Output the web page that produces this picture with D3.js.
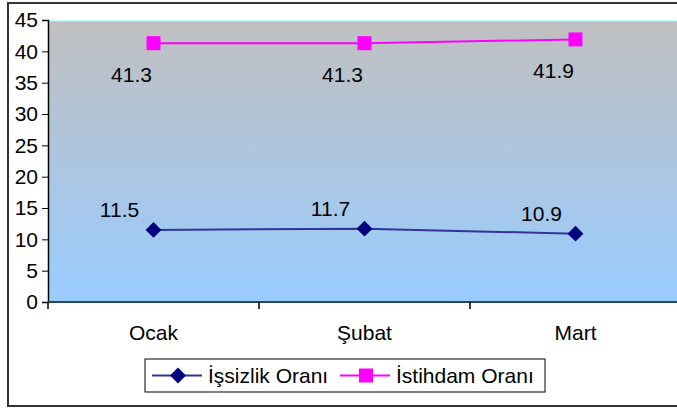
<!DOCTYPE html>
<html>
<head>
<meta charset="utf-8">
<script src="https://cdn.jsdelivr.net/npm/d3@7"></script>
<style>
  body { margin: 0; background: #fff; }
  svg { display: block; font-family: Arial, "Liberation Sans", sans-serif; }
</style>
</head>
<body>
<svg id="chart"></svg>
<script>
// Data
const months = ["Ocak", "Şubat", "Mart"];
const issizlik = [11.5, 11.7, 10.9];
const istihdam = [41.3, 41.3, 41.9];
const yTicks = [0, 5, 10, 15, 20, 25, 30, 35, 40, 45];
const seriesNames = ["İşsizlik Oranı", "İstihdam Oranı"];

const W = 677, H = 409;
const FS = "21px";
const svg = d3.select("#chart").attr("width", W).attr("height", H);

// outer frame
svg.append("rect")
  .attr("x", 8).attr("y", 3)
  .attr("width", 700).attr("height", 403)
  .attr("fill", "#fff")
  .attr("stroke", "#333").attr("stroke-width", 2);

const margin = { left: 48, top: 20 };
const plotW = 633, plotH = 282;

const x = d3.scaleBand().domain(months).range([margin.left, margin.left + plotW]);
const y = d3.scaleLinear().domain([0, 45]).range([margin.top + plotH, margin.top]);

// background gradient
const defs = svg.append("defs");
const grad = defs.append("linearGradient")
  .attr("id", "bg").attr("x1", "0").attr("y1", "0").attr("x2", "0").attr("y2", "1");
grad.append("stop").attr("offset", "0%").attr("stop-color", "#c0c0c0");
grad.append("stop").attr("offset", "100%").attr("stop-color", "#99ccff");

svg.append("rect")
  .attr("x", margin.left).attr("y", margin.top)
  .attr("width", plotW).attr("height", plotH)
  .attr("fill", "url(#bg)");

svg.append("line")
  .attr("x1", margin.left).attr("x2", margin.left + plotW)
  .attr("y1", margin.top + 0.5).attr("y2", margin.top + 0.5)
  .attr("stroke", "#ccffff").attr("stroke-width", 1.5);

// y axis
const yAxis = svg.append("g")
  .attr("transform", `translate(${margin.left},0)`)
  .call(d3.axisLeft(y).tickValues(yTicks).tickSize(6).tickPadding(4));
yAxis.select(".domain").attr("stroke", "#000").attr("stroke-width", 1.5);
yAxis.selectAll(".tick line").attr("stroke", "#000");
yAxis.selectAll("text").attr("font-size", FS).attr("fill", "#000")
  .attr("font-family", "Arial, 'Liberation Sans', sans-serif");

// x axis
const xAxisG = svg.append("g").attr("transform", `translate(0,${margin.top + plotH})`);
xAxisG.append("line")
  .attr("x1", margin.left).attr("x2", margin.left + plotW)
  .attr("stroke", "#2a4a4a").attr("stroke-width", 2);
xAxisG.selectAll(".xt")
  .data(months)
  .enter().append("line")
  .attr("x1", (d) => x(d)).attr("x2", (d) => x(d))
  .attr("y1", 0).attr("y2", 7)
  .attr("stroke", "#000").attr("stroke-width", 1.5);
xAxisG.selectAll(".xl")
  .data(months)
  .enter().append("text")
  .attr("x", (d) => x(d) + x.bandwidth() / 2)
  .attr("y", 38)
  .attr("text-anchor", "middle")
  .attr("font-size", FS)
  .text((d) => d);

const cx = (i) => x(months[i]) + x.bandwidth() / 2;
const line = d3.line().x((d, i) => cx(i)).y((d) => y(d));

// İstihdam series
svg.append("path").datum(istihdam)
  .attr("d", line).attr("fill", "none")
  .attr("stroke", "#ff00ff").attr("stroke-width", 2);
svg.selectAll(".sq").data(istihdam).enter().append("rect")
  .attr("x", (d, i) => cx(i) - 7).attr("y", (d) => y(d) - 7)
  .attr("width", 14).attr("height", 14)
  .attr("fill", "#ff00ff");
svg.selectAll(".lb2").data(istihdam).enter().append("text")
  .attr("x", (d, i) => cx(i) - 22).attr("y", (d) => y(d) + 39)
  .attr("text-anchor", "middle").attr("font-size", FS)
  .text((d) => d.toFixed(1));

// İşsizlik series
svg.append("path").datum(issizlik)
  .attr("d", line).attr("fill", "none")
  .attr("stroke", "#333399").attr("stroke-width", 2);
const diamond = d3.symbol().type(d3.symbolDiamond2).size(160);
svg.selectAll(".dm").data(issizlik).enter().append("path")
  .attr("d", diamond)
  .attr("transform", (d, i) => `translate(${cx(i)},${y(d)})`)
  .attr("fill", "#000080");
svg.selectAll(".lb1").data(issizlik).enter().append("text")
  .attr("x", (d, i) => cx(i) - 34).attr("y", (d) => y(d) - 13)
  .attr("text-anchor", "middle").attr("font-size", FS)
  .text((d) => d.toFixed(1));

// legend
const lg = svg.append("g").attr("transform", "translate(145,359)");
lg.append("rect").attr("width", 400).attr("height", 33)
  .attr("fill", "#fff").attr("stroke", "#000").attr("stroke-width", 1);

const legendItems = [
  { name: seriesNames[0], color: "#333399", mark: "#000080", x0: 7, tx: 63, shape: "diamond" },
  { name: seriesNames[1], color: "#ff00ff", mark: "#ff00ff", x0: 195, tx: 251, shape: "square" },
];
legendItems.forEach((it) => {
  lg.append("line")
    .attr("x1", it.x0).attr("x2", it.x0 + 50)
    .attr("y1", 16.5).attr("y2", 16.5)
    .attr("stroke", it.color).attr("stroke-width", 2);
  if (it.shape === "diamond") {
    lg.append("path").attr("d", diamond)
      .attr("transform", `translate(${it.x0 + 26},16.5)`)
      .attr("fill", it.mark);
  } else {
    lg.append("rect")
      .attr("x", it.x0 + 26 - 7).attr("y", 16.5 - 7)
      .attr("width", 14).attr("height", 14).attr("fill", it.mark);
  }
  lg.append("text")
    .attr("x", it.tx).attr("y", 24)
    .attr("font-size", FS)
    .text(it.name);
});
</script>
</body>
</html>
